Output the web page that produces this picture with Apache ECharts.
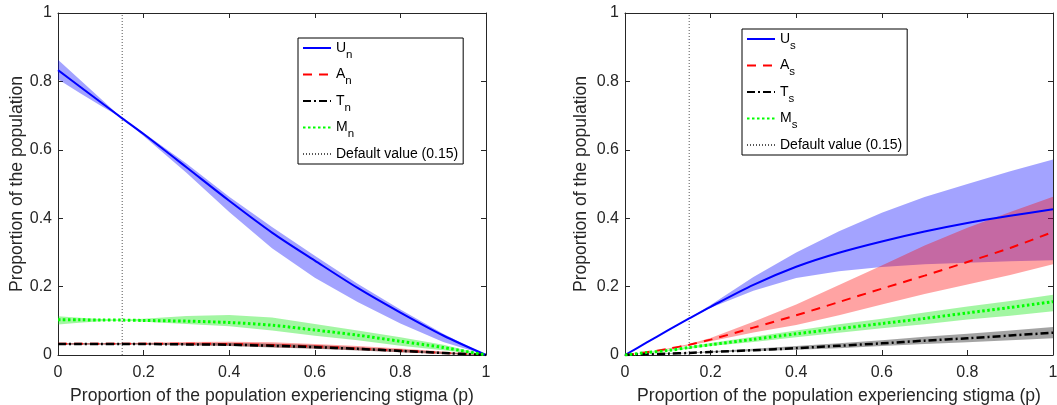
<!DOCTYPE html>
<html>
<head>
<meta charset="utf-8">
<script src="https://cdn.jsdelivr.net/npm/echarts@6/dist/echarts.min.js"></script>
<style>
  html, body { margin: 0; padding: 0; background: #fff; }
  #chart { width: 1057px; height: 405px; }
</style>
</head>
<body>
<div id="chart"></div>
<script>
// stigma proportion p (x values shared by every curve)
var pValues = [0, 0.05, 0.1, 0.15, 0.2, 0.3, 0.4, 0.5, 0.6, 0.7, 0.8, 0.9, 1];
var defaultP = 0.15;

// left panel: non-stigmatised groups
var Un    = [0.833, 0.786, 0.739, 0.692, 0.646, 0.549, 0.451, 0.358, 0.276, 0.196, 0.124, 0.057, 0];
var UnHi  = [0.863, 0.806, 0.749, 0.692, 0.650, 0.560, 0.463, 0.374, 0.290, 0.208, 0.133, 0.062, 0];
var UnLo  = [0.806, 0.767, 0.729, 0.692, 0.640, 0.533, 0.418, 0.312, 0.226, 0.155, 0.092, 0.038, 0];
var An    = [0.033, 0.033, 0.033, 0.033, 0.033, 0.033, 0.032, 0.029, 0.025, 0.019, 0.013, 0.006, 0];
var AnHi  = [0.035, 0.035, 0.035, 0.035, 0.036, 0.038, 0.039, 0.037, 0.032, 0.026, 0.019, 0.010, 0];
var AnLo  = [0.031, 0.031, 0.031, 0.032, 0.031, 0.029, 0.027, 0.023, 0.019, 0.014, 0.008, 0.003, 0];
var Tn    = [0.032, 0.032, 0.032, 0.032, 0.032, 0.031, 0.030, 0.027, 0.023, 0.018, 0.012, 0.006, 0];
var TnHi  = [0.034, 0.034, 0.034, 0.034, 0.035, 0.035, 0.035, 0.033, 0.029, 0.023, 0.016, 0.009, 0];
var TnLo  = [0.030, 0.030, 0.030, 0.030, 0.030, 0.028, 0.026, 0.022, 0.018, 0.013, 0.008, 0.003, 0];
var Mn    = [0.103, 0.103, 0.102, 0.102, 0.101, 0.099, 0.095, 0.087, 0.073, 0.058, 0.040, 0.022, 0];
var MnHi  = [0.113, 0.109, 0.105, 0.103, 0.106, 0.114, 0.117, 0.110, 0.091, 0.072, 0.052, 0.030, 0];
var MnLo  = [0.089, 0.094, 0.099, 0.101, 0.097, 0.091, 0.084, 0.072, 0.056, 0.043, 0.027, 0.014, 0];

// right panel: stigmatised groups
var Us    = [0, 0.036, 0.072, 0.107, 0.141, 0.205, 0.258, 0.299, 0.332, 0.361, 0.386, 0.407, 0.426];
var UsHi  = [0, 0.036, 0.072, 0.108, 0.146, 0.228, 0.300, 0.362, 0.416, 0.462, 0.500, 0.537, 0.572];
var UsLo  = [0, 0.036, 0.072, 0.106, 0.138, 0.188, 0.225, 0.245, 0.257, 0.265, 0.270, 0.274, 0.277];
var As    = [0, 0.008, 0.018, 0.030, 0.045, 0.080, 0.116, 0.155, 0.194, 0.232, 0.272, 0.313, 0.360];
var AsHi  = [0, 0.008, 0.019, 0.032, 0.050, 0.097, 0.148, 0.205, 0.262, 0.320, 0.372, 0.418, 0.463];
var AsLo  = [0, 0.008, 0.017, 0.028, 0.040, 0.066, 0.088, 0.116, 0.148, 0.178, 0.206, 0.234, 0.265];
var Ts    = [0, 0.002, 0.004, 0.006, 0.009, 0.014, 0.020, 0.027, 0.034, 0.042, 0.049, 0.057, 0.065];
var TsHi  = [0, 0.002, 0.005, 0.007, 0.011, 0.018, 0.026, 0.034, 0.043, 0.053, 0.062, 0.072, 0.082];
var TsLo  = [0, 0.002, 0.003, 0.005, 0.007, 0.011, 0.015, 0.020, 0.026, 0.032, 0.037, 0.043, 0.049];
var Ms    = [0, 0.007, 0.013, 0.022, 0.030, 0.046, 0.062, 0.077, 0.092, 0.107, 0.123, 0.139, 0.156];
var MsHi  = [0, 0.008, 0.015, 0.025, 0.035, 0.053, 0.072, 0.090, 0.106, 0.124, 0.142, 0.158, 0.176];
var MsLo  = [0, 0.006, 0.011, 0.018, 0.026, 0.038, 0.052, 0.065, 0.078, 0.090, 0.104, 0.115, 0.128];

var xTitle = 'Proportion of the population experiencing stigma (p)';
var yTitle = 'Proportion of the population';
var defaultName = 'Default value (0.15)';

var FONT = '"Liberation Sans", Arial, sans-serif';
var AXIS_COLOR = '#262626';

function pairs(ys) {
  return ys.map(function (y, i) { return [pValues[i], y]; });
}

// shaded range between lo and hi, drawn as one polygon in data coords
function band(idx, lo, hi, color) {
  var rows = pValues.map(function (x, i) { return [x, lo[i], hi[i]]; });
  return {
    type: 'custom', xAxisIndex: idx * 2, yAxisIndex: idx * 2,
    silent: true, z: 1, data: rows,
    encode: { x: 0, y: [1, 2] },
    renderItem: function (params, api) {
      if (params.dataIndex !== 0) return;
      var top = [], bottom = [];
      rows.forEach(function (r) {
        top.push(api.coord([r[0], r[2]]));
        bottom.unshift(api.coord([r[0], r[1]]));
      });
      return {
        type: 'polygon',
        shape: { points: top.concat(bottom) },
        style: { fill: color }
      };
    }
  };
}

function curve(idx, name, ys, color, width, dash) {
  return {
    name: name, type: 'line', xAxisIndex: idx * 2, yAxisIndex: idx * 2,
    data: pairs(ys), symbol: 'none', smooth: 0.3, z: 3,
    itemStyle: { color: color },
    lineStyle: { color: color, width: width, type: dash }
  };
}

function defaultLine(idx) {
  return {
    name: defaultName, type: 'line', xAxisIndex: idx * 2, yAxisIndex: idx * 2,
    data: [[defaultP, 0], [defaultP, 1]], symbol: 'none', z: 2,
    itemStyle: { color: '#555' },
    lineStyle: { color: '#555', width: 1, type: [1, 2] }
  };
}

var grids = [
  { left: 58, right: 571, top: 13, bottom: 50, outerBoundsMode: 'none' },
  { left: 625, right: 4, top: 13, bottom: 50, outerBoundsMode: 'none' }
];
var yNameGaps = [32, 35];

var xAxes = [], yAxes = [];
grids.forEach(function (g, i) {
  var tick = { show: true, inside: true, length: 5, lineStyle: { color: AXIS_COLOR } };
  var line = { show: true, onZero: false, lineStyle: { color: AXIS_COLOR, width: 1 } };
  xAxes.push({
    type: 'value', gridIndex: i, min: 0, max: 1, interval: 0.2, position: 'bottom',
    axisLine: line, axisTick: tick, splitLine: { show: false },
    axisLabel: { color: AXIS_COLOR, fontSize: 16, fontFamily: FONT, margin: 10 },
    name: xTitle, nameLocation: 'middle', nameGap: 32,
    nameTextStyle: { color: AXIS_COLOR, fontSize: 17.6, fontFamily: FONT }
  });
  xAxes.push({
    type: 'value', gridIndex: i, min: 0, max: 1, interval: 0.2, position: 'top',
    axisLine: line, axisTick: tick, splitLine: { show: false }, axisLabel: { show: false }
  });
  yAxes.push({
    type: 'value', gridIndex: i, min: 0, max: 1, interval: 0.2, position: 'left',
    axisLine: line, axisTick: tick, splitLine: { show: false },
    axisLabel: { color: AXIS_COLOR, fontSize: 16, fontFamily: FONT, margin: 6 },
    name: yTitle, nameLocation: 'middle', nameGap: yNameGaps[i],
    nameTextStyle: { color: AXIS_COLOR, fontSize: 17.6, fontFamily: FONT }
  });
  yAxes.push({
    type: 'value', gridIndex: i, min: 0, max: 1, interval: 0.2, position: 'right',
    axisLine: line, axisTick: tick, splitLine: { show: false }, axisLabel: { show: false }
  });
});

var BLUE_BAND = 'rgba(0,0,255,0.36)';
var RED_BAND = 'rgba(255,0,0,0.36)';
var GREEN_BAND = 'rgba(0,230,0,0.36)';
var GRAY_BAND = 'rgba(0,0,0,0.36)';

var series = [
  band(0, UnLo, UnHi, BLUE_BAND),
  band(0, MnLo, MnHi, GREEN_BAND),
  band(0, AnLo, AnHi, RED_BAND),
  band(0, TnLo, TnHi, GRAY_BAND),
  band(1, UsLo, UsHi, BLUE_BAND),
  band(1, AsLo, AsHi, RED_BAND),
  band(1, MsLo, MsHi, GREEN_BAND),
  band(1, TsLo, TsHi, GRAY_BAND),
  defaultLine(0),
  curve(0, 'U_n', Un, '#0000ff', 2, 'solid'),
  curve(0, 'A_n', An, '#ff0000', 2, [9, 7]),
  curve(0, 'T_n', Tn, '#000000', 2.5, [8, 3, 2, 3]),
  curve(0, 'M_n', Mn, '#00ff00', 3, [2.5, 2.5]),
  defaultLine(1),
  curve(1, 'U_s', Us, '#0000ff', 2, 'solid'),
  curve(1, 'A_s', As, '#ff0000', 2, [9, 7]),
  curve(1, 'T_s', Ts, '#000000', 2.5, [8, 3, 2, 3]),
  curve(1, 'M_s', Ms, '#00ff00', 3, [2.5, 2.5])
];

function legendFor(names, left, top) {
  return {
    data: names, orient: 'vertical', left: left, top: top,
    itemWidth: 28, itemHeight: 14, itemGap: 7, padding: [3, 5, 3, 4],
    backgroundColor: '#fff', borderColor: '#000', borderWidth: 1, borderRadius: 0,
    selectedMode: false,
    itemStyle: { opacity: 0 },
    textStyle: {
      color: '#000', fontSize: 14, fontFamily: FONT,
      rich: { s: { fontSize: 11.5, fontFamily: FONT, color: '#000', padding: [13, 0, 0, 0] } }
    },
    formatter: function (name) {
      var parts = name.split('_');
      return parts.length > 1 ? parts[0] + '{s|' + parts[1] + '}' : name;
    }
  };
}

var myChart = echarts.init(document.getElementById('chart'), null, { renderer: 'canvas' });

var option = {
  animation: false,
  grid: grids,
  xAxis: xAxes,
  yAxis: yAxes,
  legend: [
    legendFor(['U_n', 'A_n', 'T_n', 'M_n', defaultName], 298, 38),
    legendFor(['U_s', 'A_s', 'T_s', 'M_s', defaultName], 742, 29)
  ],
  series: series
};

myChart.setOption(option);
window.addEventListener('resize', myChart.resize);
</script>
</body>
</html>
